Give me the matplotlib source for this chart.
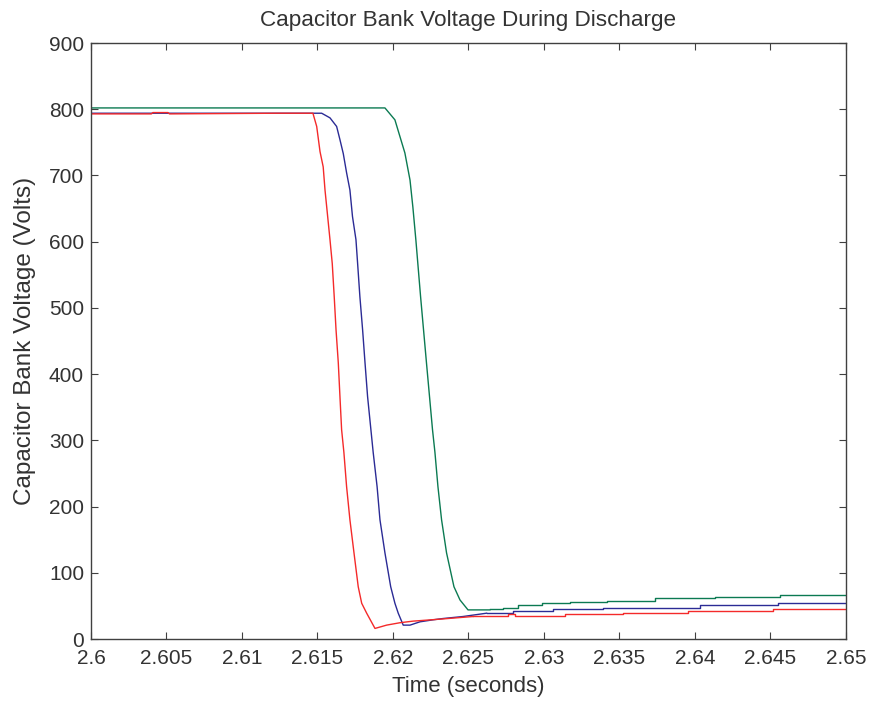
import matplotlib
matplotlib.use("Agg")
import matplotlib.pyplot as plt

plt.rcParams['font.family'] = ['Liberation Sans', 'DejaVu Sans']

# red trace: flat level, discharge, then staircase tail
red_t = [2.6000, 2.6040, 2.6041, 2.6051, 2.6052, 2.6123, 2.61470, 2.61495, 2.61517, 2.61538,
         2.61550, 2.61572, 2.61583, 2.61598, 2.61611, 2.61623, 2.61638, 2.61649, 2.61660,
         2.61675, 2.61693, 2.61715, 2.61742, 2.61770, 2.61793, 2.61826, 2.61881, 2.61958,
         2.62046, 2.62132, 2.62311, 2.62530]
red_v = [793, 793, 795, 795, 793, 794, 794, 774, 736, 713,
         678, 628, 603, 567, 517, 467, 417, 366, 316,
         282, 230, 180, 130, 79, 54, 39, 16, 21,
         24.6, 27, 30, 34]
red_step_t = [2.62530, 2.62762, 2.62808, 2.63139, 2.63523, 2.63954, 2.64517, 2.6500]
red_step_v = [34.5, 38, 35, 38, 40, 42, 45, 45]

# blue trace
blue_t = [2.6000, 2.61528, 2.61583, 2.61627, 2.61649, 2.61671, 2.61693, 2.61715, 2.61732,
          2.61755, 2.61766, 2.61781, 2.61799, 2.61815, 2.61832, 2.61854, 2.61869, 2.61895,
          2.61914, 2.61947, 2.61985, 2.62013, 2.62035, 2.62068, 2.62113, 2.62179, 2.62265,
          2.62333, 2.62464, 2.62620]
blue_v = [794, 794, 787, 774, 754, 733, 704, 678, 638,
          603, 567, 517, 467, 417, 366, 316, 282, 230,
          180, 130, 79, 54, 39, 21, 21, 26, 29,
          31, 34, 39]
blue_step_t = [2.62620, 2.62795, 2.63060, 2.63391, 2.64033, 2.64550, 2.6500]
blue_step_v = [40, 43, 45, 47, 51, 54, 54]

# green trace
green_t = [2.6000, 2.61947, 2.62013, 2.62079, 2.62113, 2.62132, 2.62152, 2.62183, 2.62222,
           2.62262, 2.62278, 2.62298, 2.62322, 2.62355, 2.62404, 2.62444, 2.62497, 2.62642]
green_v = [802, 802, 784, 734, 693, 652, 602, 517, 417,
           316, 282, 230, 180, 130, 79, 59, 44, 44]
green_step_t = [2.62642, 2.62728, 2.62828, 2.62987, 2.63172, 2.63417, 2.63735, 2.64132, 2.64563, 2.6500]
green_step_v = [45, 47, 51, 54, 56, 58, 61.5, 64, 67, 67]

red = '#f42a2a'
blue = '#2b2b95'
green = '#0b7a52'

fig = plt.figure(figsize=(8.73, 7.02), dpi=100)
ax = fig.add_axes([0.1042, 0.0897, 0.8648, 0.849])

ax.plot(green_t, green_v, color=green, lw=1)
ax.plot(green_step_t, green_step_v, color=green, lw=1, drawstyle='steps-post')
ax.plot(blue_t, blue_v, color=blue, lw=1)
ax.plot(blue_step_t, blue_step_v, color=blue, lw=1, drawstyle='steps-post')
ax.plot(red_t, red_v, color=red, lw=1)
ax.plot(red_step_t, red_step_v, color=red, lw=1, drawstyle='steps-post')

ax.set_xlim(2.6, 2.65)
ax.set_ylim(0, 900)
xt = [2.6, 2.605, 2.61, 2.615, 2.62, 2.625, 2.63, 2.635, 2.64, 2.645, 2.65]
ax.set_xticks(xt)
ax.set_xticklabels(['2.6', '2.605', '2.61', '2.615', '2.62', '2.625', '2.63', '2.635', '2.64', '2.645', '2.65'])
ax.set_yticks(range(0, 901, 100))

txt = '#333333'
for s in ax.spines.values():
    s.set_color('#404040')
    s.set_linewidth(1)
ax.tick_params(direction='in', top=True, right=True, length=5, width=0.8,
               colors='#404040', labelcolor=txt, labelsize=15, pad=5)
ax.tick_params(axis='x', pad=7)

ax.set_title('Capacitor Bank Voltage During Discharge', fontsize=16.2, color=txt, pad=12)
ax.set_xlabel('Time (seconds)', fontsize=16, color=txt, labelpad=6)
ax.set_ylabel('Capacitor Bank Voltage (Volts)', fontsize=17.5, color=txt, labelpad=9)

fig.savefig('out.png', dpi=100)
